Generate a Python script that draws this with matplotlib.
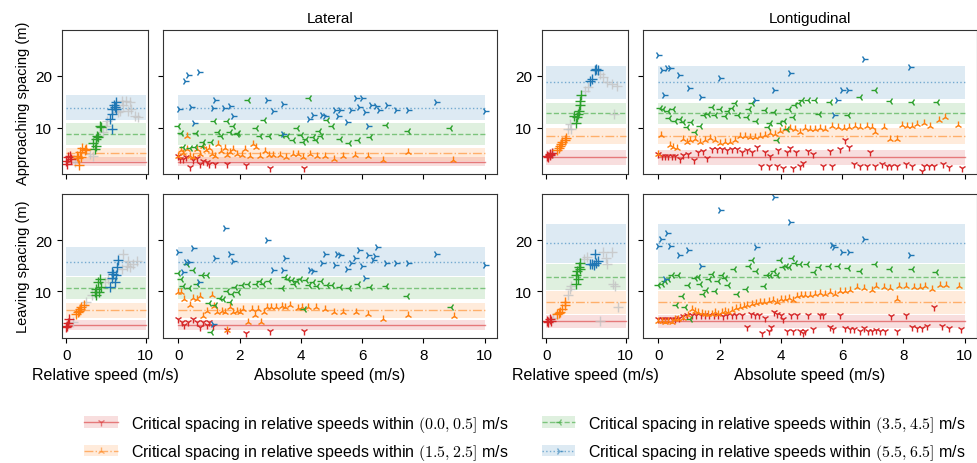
import numpy as np
import matplotlib
matplotlib.use('Agg')
import matplotlib.pyplot as plt
from matplotlib.patches import Patch
from matplotlib.lines import Line2D

plt.rcParams['font.family'] = ['Liberation Sans', 'DejaVu Sans']
plt.rcParams['mathtext.fontset'] = 'cm'

# bins of relative speed
bin_labels = ['(0.0, 0.5]', '(1.5, 2.5]', '(3.5, 4.5]', '(5.5, 6.5]']
colors = ['#d62728', '#ff7f0e', '#2ca02c', '#1f77b4']
markers = ['1', '2', '3', '4']
linestyles = ['-', '-.', '--', ':']

# critical spacing (centre, low, high) for each bin
lat_app_center = [3.44, 5.16, 8.85, 13.8]
lat_app_low = [2.7, 3.75, 6.8, 11.6]
lat_app_high = [4.4, 6.2, 11.0, 16.2]
lat_lea_center = [3.43, 6.35, 10.7, 15.8]
lat_lea_low = [2.45, 4.85, 8.6, 13.0]
lat_lea_high = [4.4, 7.7, 12.9, 18.6]
lon_app_center = [4.5, 8.53, 12.87, 18.74]
lon_app_low = [3.0, 6.94, 10.77, 15.55]
lon_app_high = [5.85, 10.0, 14.8, 21.8]
lon_lea_center = [4.15, 7.9, 12.8, 19.35]
lon_lea_low = [2.8, 5.6, 10.25, 15.5]
lon_lea_high = [5.45, 10.1, 15.3, 23.1]

# ---- relative speed vs spacing (x = relative speed, y = spacing) ----
lat_app_rel_red = [(0, 3.75), (0.2, 4.4), (0.42, 4.7), (0.13, 3.1), (0.55, 4.1)]
lat_app_rel_orange = [(1.6, 2.9), (1.35, 4.7), (1.69, 5.35), (2.0, 6.1), (2.3, 5.7), (1.9, 4.4), (1.5, 4.2), (2.5, 6.0)]
lat_app_rel_green = [(3.6, 6.0), (3.8, 7.9), (4.0, 8.2), (4.2, 10.4), (4.4, 10.1), (3.4, 7.1), (3.7, 6.6), (3.9, 8.5)]
lat_app_rel_blue = [(5.7, 9.8), (5.5, 11.7), (5.7, 12.7), (5.8, 13.6), (6.1, 13.9), (6.3, 13.6), (6.2, 15.0), (6.0, 14.3)]
lat_app_rel_grey = [(1.05, 3.4), (2.95, 5.0), (3.4, 4.7), (4.6, 9.2), (5.0, 10.4), (5.15, 11.4), (6.75, 13.3), (7.2, 14.3),
                    (7.5, 15.2), (8.0, 14.9), (8.2, 13.6), (7.8, 13.3), (8.65, 12.2), (9.1, 12.0), (6.5, 13.0), (6.96, 15.2)]

lon_app_rel_red = [(0.1, 4.7), (0.4, 5.0), (0.7, 5.2), (0.2, 4.4), (0.5, 4.8)]
lon_app_rel_orange = [(1.35, 5.7), (1.7, 6.6), (2.0, 7.3), (2.3, 7.6), (2.5, 8.0), (1.55, 6.1), (1.85, 6.9)]
lon_app_rel_green = [(3.7, 10.9), (3.9, 12.0), (4.1, 13.3), (4.3, 15.2), (4.4, 16.2), (4.0, 12.7), (4.2, 14.3), (3.5, 12.2)]
lon_app_rel_blue = [(5.5, 19.0), (5.8, 19.4), (6.1, 21.0), (6.3, 21.3), (6.5, 21.0)]
lon_app_rel_grey = [(0.9, 5.2), (2.7, 9.8), (2.95, 10.8), (3.1, 9.8), (4.9, 17.1), (5.2, 17.8), (7.2, 19.7), (7.7, 18.7),
                    (8.3, 18.4), (8.9, 18.0), (8.5, 12.7), (6.8, 20.3)]

lat_lea_rel_red = [(0.13, 3.3), (0.34, 4.6), (0.2, 3.8), (0, 3.0)]
lat_lea_rel_orange = [(1.27, 5.6), (1.6, 6.2), (1.9, 6.9), (2.2, 7.3), (1.5, 5.9), (1.77, 6.6)]
lat_lea_rel_green = [(3.6, 9.8), (3.8, 10.5), (4.0, 11.8), (4.2, 12.4), (3.7, 9.2), (4.1, 9.8), (4.4, 10.8)]
lat_lea_rel_blue = [(5.5, 10.8), (5.7, 12.7), (5.9, 13.4), (6.2, 13.1), (6.4, 14.7), (6.5, 16.1), (6.1, 11.8), (5.7, 13.7)]
lat_lea_rel_grey = [(0.85, 4.0), (2.5, 7.9), (3.2, 9.2), (4.85, 11.8), (5.3, 12.4), (7.2, 17.3), (7.6, 15.0), (8.0, 14.7),
                    (8.4, 15.3), (8.9, 16.0), (7.8, 16.0), (7.0, 14.4)]

lon_lea_rel_red = [(0.1, 4.3), (0.4, 4.6), (0.2, 4.0), (0.6, 4.3)]
lon_lea_rel_orange = [(1.35, 5.6), (1.7, 6.0), (2.0, 6.6), (2.3, 7.3), (2.4, 7.9), (1.55, 5.8)]
lon_lea_rel_green = [(3.8, 11.4), (3.7, 13.1), (3.9, 14.0), (4.1, 14.7), (4.3, 15.6), (4.0, 12.4), (4.2, 14.3)]
lon_lea_rel_blue = [(5.5, 15.3), (5.8, 15.3), (6.1, 17.3), (6.3, 15.6), (6.5, 16.0), (6.0, 15.1)]
lon_lea_rel_grey = [(0.9, 4.9), (2.7, 9.2), (2.95, 10.5), (3.1, 11.1), (4.7, 16.3), (5.1, 16.8), (7.2, 17.6), (7.7, 15.3),
                    (8.3, 17.6), (8.4, 11.4), (8.7, 11.1), (9.0, 7.0), (6.8, 4.3), (7.5, 16.6)]

# ---- absolute speed vs spacing ----
lat_app_abs_red = [(0.0, 4.7), (0.05, 4.0), (0.16, 4.1), (0.25, 4.4), (0.38, 2.5), (0.49, 3.9), (0.6, 4.2), (0.71, 3.1),
                   (0.82, 3.75), (0.92, 3.4), (1.01, 3.1), (1.2, 3.1), (1.6, 3.1), (2.2, 2.9), (2.99, 2.3), (4.1, 2.3)]
lat_app_abs_orange = [(0.27, 8.5), (0, 4.7), (0.08, 5.7), (0.16, 5.2), (0.27, 5.9), (0.38, 4.7), (0.47, 4.4), (0.6, 6.0),
                      (0.71, 5.0), (0.82, 6.6), (0.9, 5.7), (1.01, 6.1), (1.09, 5.0), (1.2, 4.7), (1.3, 6.9), (1.39, 5.5),
                      (1.52, 6.1), (1.6, 4.8), (1.68, 5.4), (1.79, 6.0), (1.92, 5.0), (2.07, 4.8), (2.17, 6.0), (2.34, 4.7),
                      (2.45, 6.9), (2.55, 6.3), (2.66, 4.7), (2.83, 5.5), (2.97, 4.8), (3.1, 4.8), (3.32, 4.8), (3.53, 4.4),
                      (3.75, 5.0), (3.91, 5.0), (4.08, 4.4), (4.29, 5.0), (4.51, 4.7), (4.78, 4.7), (5.09, 4.1), (5.38, 4.7),
                      (5.78, 4.8), (6.2, 4.7), (6.68, 3.95), (7.48, 5.4), (8.97, 3.9)]
lat_app_abs_green = [(0.0, 10.4), (0.09, 9.0), (0.57, 9.0), (0.16, 6.3), (0.38, 6.2), (0.54, 6.3), (0.76, 6.6), (1.17, 11.4),
                     (1.07, 7.4), (1.29, 9.2), (1.4, 8.5), (1.58, 11.4), (1.77, 10.3), (1.68, 9.2), (1.96, 9.0), (1.9, 8.9),
                     (2.28, 15.4), (2.55, 9.9), (2.66, 8.4), (2.79, 11.5), (2.96, 8.4), (3.37, 8.7), (3.55, 8.5), (3.75, 7.6),
                     (3.86, 9.9), (3.99, 8.7), (4.08, 7.3), (4.18, 7.9), (4.27, 15.7), (4.38, 8.2), (4.6, 9.5), (4.67, 8.5),
                     (4.48, 7.6), (4.84, 11.6), (5.0, 10.4), (5.27, 7.9), (5.58, 7.1), (5.87, 7.7), (6.27, 8.2), (6.77, 10.6),
                     (7.48, 9.5), (8.86, 9.9), (0.82, 7.3)]
lat_app_abs_blue = [(0.22, 19.0), (0.3, 20.2), (0.68, 20.6), (0.03, 13.6), (0.4, 13.95), (1.2, 15.4), (1.12, 13.8),
                    (1.49, 13.76), (1.68, 14.1), (1.79, 12.2), (0.51, 11.0), (2.9, 15.4), (3.1, 13.3), (3.4, 14.6),
                    (4.25, 11.7), (4.4, 12.5), (4.7, 12.4), (4.8, 12.2), (5.1, 13.4), (5.27, 13.5), (5.2, 12.2), (5.5, 11.2),
                    (5.8, 15.7), (5.98, 15.7), (5.65, 13.4), (5.9, 13.9), (6.1, 13.1), (6.3, 14.3), (6.45, 14.1),
                    (6.55, 13.5), (6.8, 14.4), (7.1, 13.5), (7.48, 13.4), (6.2, 10.4), (8.4, 15.0), (10.0, 13.3), (3.42, 8.9)]

lon_app_abs_red = [(0, 5.0), (0.11, 4.7), (0.22, 4.7), (0.33, 4.7), (0.44, 4.7), (0.54, 4.7), (0.71, 4.1), (0.82, 4.8),
                   (0.98, 5.0), (1.18, 3.9), (1.31, 5.35), (1.45, 5.5), (1.6, 4.2), (1.74, 6.0), (1.91, 6.0), (2.07, 5.9),
                   (2.23, 5.7), (2.4, 5.9), (2.56, 6.0), (2.72, 5.35), (2.89, 5.7), (3.05, 5.35), (3.21, 6.3), (3.36, 2.8),
                   (3.49, 5.35), (3.6, 2.8), (3.65, 4.7), (3.87, 2.8), (3.92, 5.7), (4.08, 2.3), (4.19, 5.35), (4.3, 6.1),
                   (4.41, 2.3), (4.49, 5.35), (4.63, 2.8), (4.72, 3.25), (4.9, 5.5), (5.04, 5.0), (5.39, 2.8), (5.59, 5.5),
                   (5.66, 2.8), (5.92, 6.0), (6.1, 7.6), (6.21, 6.3), (6.38, 3.1), (6.57, 2.8), (6.81, 2.8), (6.9, 5.35),
                   (7.08, 2.8), (7.3, 3.1), (7.46, 2.8), (7.6, 2.8), (7.79, 2.8), (8.09, 3.1), (8.28, 2.8), (8.6, 1.85),
                   (8.66, 2.7), (8.82, 2.7), (9.0, 2.8), (9.29, 3.1), (9.48, 2.5), (9.9, 2.3)]
lon_app_abs_orange = [(0, 5.0), (0.08, 8.7), (0.38, 6.75), (0.49, 6.4), (0.6, 6.1), (0.8, 7.9), (0.93, 7.4), (1.03, 7.6),
                      (1.2, 7.9), (1.36, 7.3), (1.53, 7.6), (1.69, 8.0), (1.85, 7.6), (2.02, 7.1), (2.18, 7.4), (2.34, 7.3),
                      (2.51, 7.6), (2.67, 8.4), (2.83, 8.4), (2.99, 8.2), (3.16, 8.2), (3.32, 8.4), (3.49, 8.7), (3.65, 9.0),
                      (3.81, 8.9), (3.98, 9.5), (4.14, 9.8), (4.3, 9.9), (4.47, 9.7), (4.63, 9.3), (4.79, 9.9), (4.96, 9.7),
                      (5.12, 9.8), (5.28, 9.9), (5.45, 9.8), (5.67, 10.3), (5.88, 10.1), (6.05, 9.9), (6.21, 10.1),
                      (6.43, 10.3), (6.59, 10.1), (6.81, 10.4), (6.97, 10.1), (7.08, 9.2), (7.35, 10.1), (7.57, 7.9),
                      (7.79, 7.9), (7.95, 10.6), (8.11, 10.4), (8.28, 10.4), (8.44, 10.8), (8.66, 11.0), (8.88, 10.4),
                      (9.15, 11.6), (9.37, 12.0), (9.78, 10.6)]
lon_app_abs_green = [(0.05, 13.8), (0.16, 13.6), (0.33, 13.3), (0.49, 13.6), (0.36, 11.8), (0.54, 11.4), (0.71, 11.7),
                     (0.82, 11.1), (0.95, 10.1), (1.07, 11.2), (1.2, 9.2), (1.36, 10.4), (1.49, 12.5), (1.63, 12.7),
                     (1.74, 13.9), (1.85, 12.5), (2.0, 13.6), (2.18, 12.2), (2.29, 13.3), (2.4, 13.8), (2.51, 14.8),
                     (2.59, 12.5), (2.89, 12.0), (2.97, 13.6), (3.05, 14.7), (3.19, 11.4), (3.49, 13.4), (3.76, 13.0),
                     (3.65, 10.9), (3.57, 10.1), (3.98, 10.9), (4.1, 11.4), (4.25, 13.6), (4.38, 12.0), (4.47, 14.4),
                     (4.58, 14.8), (4.68, 15.4), (4.9, 15.4), (5.1, 15.4), (5.26, 12.7), (5.59, 14.9), (6.18, 12.5),
                     (6.57, 15.9), (7.08, 17.3), (7.57, 15.2), (8.28, 14.9), (9.1, 15.0), (3.87, 7.6), (4.19, 9.8)]
lon_app_abs_blue = [(0, 24.0), (0.11, 21.1), (0.27, 21.4), (0.38, 21.4), (0.69, 20.1), (1.0, 17.6), (0.2, 16.2),
                    (1.39, 15.9), (2.0, 19.5), (3.79, 17.3), (4.3, 20.4), (6.0, 17.3), (6.2, 17.3), (6.7, 23.2),
                    (8.2, 21.6), (5.83, 15.4), (5.72, 12.5), (3.16, 15.4)]

lat_lea_abs_red = [(0, 4.7), (0.11, 4.0), (0.2, 3.5), (0.33, 4.1), (0.47, 4.6), (0.6, 4.0), (0.71, 3.0), (0.82, 4.0),
                   (0.92, 3.4), (1.01, 4.1), (1.12, 3.3), (1.6, 2.5), (2.2, 1.9), (2.99, 2.2), (4.1, 2.2)]
lat_lea_abs_orange = [(0, 9.9), (0.09, 9.8), (0.2, 8.5), (0.38, 7.3), (0.49, 8.8), (0.6, 8.6), (0.71, 9.0), (0.82, 5.1),
                      (0.95, 6.2), (1.09, 9.3), (1.17, 7.2), (1.25, 6.0), (1.41, 6.2), (1.52, 6.0), (1.68, 6.9), (1.79, 6.0),
                      (1.9, 6.2), (2.01, 6.0), (2.12, 6.6), (2.28, 4.0), (2.39, 6.6), (2.5, 5.3), (2.59, 6.6), (2.7, 4.0),
                      (2.8, 6.0), (2.9, 7.0), (3.04, 6.9), (3.2, 6.9), (3.37, 7.2), (3.48, 6.9), (3.64, 7.3), (3.89, 6.7),
                      (4.05, 6.9), (4.24, 6.9), (4.48, 6.9), (4.78, 6.6), (5.09, 6.0), (5.38, 6.0), (5.79, 5.9), (6.2, 5.6),
                      (6.68, 4.7), (7.48, 5.3), (8.99, 5.1), (1.6, 2.5)]
lat_lea_abs_green = [(0, 13.5), (0.09, 12.4), (0.16, 11.1), (0.27, 15.3), (0.36, 10.6), (0.47, 14.2), (0.6, 11.4),
                     (0.76, 13.1), (1.01, 7.7), (1.07, 2.0), (1.2, 7.4), (1.36, 8.8), (1.47, 8.6), (1.6, 10.1), (1.68, 7.9),
                     (1.74, 9.5), (1.85, 10.8), (1.96, 9.8), (2.07, 11.2), (2.26, 11.4), (2.53, 11.4), (2.66, 12.1),
                     (2.77, 11.4), (2.97, 12.1), (3.39, 10.6), (3.48, 12.9), (3.59, 12.5), (3.7, 12.2), (3.77, 11.4),
                     (3.86, 12.1), (3.97, 12.4), (4.1, 6.6), (4.18, 12.2), (4.27, 11.2), (4.38, 11.9), (4.51, 11.1),
                     (4.67, 12.1), (4.84, 11.2), (5.0, 11.2), (5.27, 10.8), (5.58, 10.6), (5.87, 11.4), (6.27, 10.8),
                     (6.77, 11.1), (7.47, 9.0), (8.89, 6.9), (0.92, 13.1)]
lat_lea_abs_blue = [(1.52, 22.3), (2.88, 20.0), (0, 17.7), (0.49, 18.4), (1.2, 16.5), (1.68, 17.3), (1.79, 16.0),
                    (0.25, 15.8), (0.36, 15.8), (0.16, 13.7), (0.66, 11.9), (1.14, 3.6), (3.1, 14.2), (3.4, 14.2),
                    (3.48, 16.5), (4.29, 14.2), (4.4, 14.0), (4.7, 15.6), (4.8, 17.3), (5.1, 15.2), (5.18, 17.3),
                    (5.29, 17.1), (5.49, 14.4), (5.65, 15.5), (5.76, 16.6), (5.89, 18.1), (6.01, 14.9), (6.09, 12.6),
                    (6.2, 17.1), (6.34, 16.1), (6.41, 16.9), (6.5, 18.6), (6.79, 15.5), (7.1, 15.5), (7.5, 15.6),
                    (8.4, 17.3), (10.0, 15.2)]

lon_lea_abs_red = [(0, 4.6), (0.11, 4.7), (0.22, 4.7), (0.33, 4.7), (0.44, 4.7), (0.54, 4.7), (0.69, 4.9), (0.82, 5.1),
                   (0.95, 5.3), (1.09, 5.3), (1.23, 5.3), (1.38, 5.3), (1.53, 5.3), (1.67, 5.3), (1.82, 5.3), (1.96, 5.3),
                   (2.1, 5.1), (2.23, 5.4), (2.4, 5.4), (2.54, 5.4), (2.72, 5.4), (2.89, 3.0), (3.02, 5.6), (3.16, 5.4),
                   (3.27, 5.4), (3.38, 1.9), (3.49, 4.9), (3.6, 2.2), (3.67, 3.0), (3.78, 6.0), (3.87, 5.6), (4.0, 5.4),
                   (4.08, 4.6), (4.19, 2.3), (4.32, 5.4), (4.41, 2.3), (4.52, 5.3), (4.61, 2.2), (4.72, 1.9), (4.79, 2.2),
                   (4.9, 5.3), (5.04, 2.7), (5.28, 5.3), (5.39, 5.4), (5.59, 3.0), (5.7, 2.7), (5.92, 5.3), (6.1, 2.8),
                   (6.24, 2.7), (6.39, 2.7), (6.57, 2.3), (6.7, 2.8), (6.83, 2.3), (6.97, 2.3), (7.11, 2.5), (7.24, 2.2),
                   (7.41, 2.2), (7.6, 5.1), (7.79, 2.2), (8.09, 5.3), (8.28, 3.0), (8.44, 2.8), (8.61, 2.8), (8.77, 3.2),
                   (8.99, 6.9), (9.26, 3.2), (9.48, 2.8), (9.89, 2.7)]
lon_lea_abs_orange = [(0, 4.3), (0.11, 4.3), (0.22, 4.1), (0.33, 4.3), (0.44, 4.1), (0.54, 4.6), (0.65, 4.7), (0.82, 4.9),
                      (0.98, 5.3), (1.09, 6.6), (1.2, 6.2), (1.31, 6.0), (1.42, 5.8), (1.53, 5.6), (1.63, 5.6), (1.74, 5.6),
                      (1.85, 6.0), (1.96, 5.6), (2.07, 6.0), (2.18, 6.2), (2.29, 5.9), (2.4, 6.4), (2.54, 6.7), (2.67, 6.9),
                      (2.78, 7.2), (2.91, 7.3), (3.05, 7.5), (3.19, 7.7), (3.32, 8.0), (3.46, 8.0), (3.6, 8.2), (3.74, 8.4),
                      (3.87, 8.0), (4.01, 8.6), (4.14, 8.6), (4.28, 8.8), (4.41, 8.4), (4.52, 9.0), (4.66, 9.2), (4.79, 9.3),
                      (4.96, 9.2), (5.12, 9.5), (5.28, 9.7), (5.45, 9.5), (5.61, 9.8), (5.77, 9.5), (5.94, 10.1),
                      (6.1, 10.1), (6.26, 10.3), (6.48, 10.8), (6.7, 10.6), (6.97, 10.3), (7.11, 11.0), (7.35, 10.8),
                      (7.57, 10.6), (7.79, 8.5), (7.84, 11.0), (8.09, 11.0), (8.33, 10.8), (8.55, 10.8), (8.71, 11.0),
                      (8.93, 10.5), (9.18, 11.2), (9.4, 11.2), (9.8, 11.0)]
lon_lea_abs_green = [(0, 11.2), (0.11, 11.4), (0.22, 12.1), (0.33, 12.4), (0.44, 13.1), (0.65, 13.2), (0.57, 7.3),
                     (0.76, 9.0), (0.87, 6.9), (0.96, 11.2), (1.2, 12.7), (1.31, 12.9), (1.36, 11.4), (1.47, 9.5),
                     (1.56, 10.3), (1.66, 12.4), (1.74, 13.4), (1.85, 10.1), (1.96, 12.1), (2.07, 13.1), (2.18, 12.7),
                     (2.27, 11.2), (2.47, 14.4), (2.56, 9.5), (2.86, 10.5), (2.97, 14.9), (3.05, 16.2), (3.19, 14.0),
                     (3.46, 11.1), (3.54, 13.1), (3.65, 13.2), (3.76, 14.0), (3.87, 13.1), (3.98, 16.2), (4.07, 14.7),
                     (4.17, 14.9), (4.27, 14.7), (4.36, 16.6), (4.47, 15.6), (4.63, 15.3), (4.85, 15.3), (5.07, 13.8),
                     (5.26, 14.7), (5.58, 14.9), (5.88, 14.9), (6.18, 14.5), (6.57, 14.0), (7.08, 15.3), (7.57, 14.4),
                     (8.28, 14.4), (9.07, 13.7), (1.03, 4.6)]
lon_lea_abs_blue = [(0, 18.8), (0.09, 20.2), (0.29, 21.4), (0.38, 18.9), (0.69, 17.1), (0.98, 18.1), (1.38, 14.9),
                    (2.0, 25.9), (3.19, 18.7), (3.78, 28.4), (4.3, 23.6), (5.66, 19.1), (5.74, 18.6), (5.99, 17.7),
                    (6.21, 17.6), (6.7, 20.2), (8.2, 17.1), (0.22, 12.5)]

# figure layout (pixel-matched)
fig = plt.figure(figsize=(9.78, 4.64), dpi=100)
W, H = 978, 464
col_px = [(62, 148), (163, 497), (542, 628), (643, 977)]
row_px = [(31, 175), (195, 339)]
axes = [[None] * 4 for _ in range(2)]
for r, (top, bot) in enumerate(row_px):
    for c, (l, rr) in enumerate(col_px):
        axes[r][c] = fig.add_axes([l / W, 1 - bot / H, (rr - l) / W, (bot - top) / H])

panels = [
    (0, 0, [lat_app_rel_red, lat_app_rel_orange, lat_app_rel_green, lat_app_rel_blue], lat_app_rel_grey,
     lat_app_center, lat_app_low, lat_app_high),
    (0, 1, [lat_app_abs_red, lat_app_abs_orange, lat_app_abs_green, lat_app_abs_blue], None,
     lat_app_center, lat_app_low, lat_app_high),
    (0, 2, [lon_app_rel_red, lon_app_rel_orange, lon_app_rel_green, lon_app_rel_blue], lon_app_rel_grey,
     lon_app_center, lon_app_low, lon_app_high),
    (0, 3, [lon_app_abs_red, lon_app_abs_orange, lon_app_abs_green, lon_app_abs_blue], None,
     lon_app_center, lon_app_low, lon_app_high),
    (1, 0, [lat_lea_rel_red, lat_lea_rel_orange, lat_lea_rel_green, lat_lea_rel_blue], lat_lea_rel_grey,
     lat_lea_center, lat_lea_low, lat_lea_high),
    (1, 1, [lat_lea_abs_red, lat_lea_abs_orange, lat_lea_abs_green, lat_lea_abs_blue], None,
     lat_lea_center, lat_lea_low, lat_lea_high),
    (1, 2, [lon_lea_rel_red, lon_lea_rel_orange, lon_lea_rel_green, lon_lea_rel_blue], lon_lea_rel_grey,
     lon_lea_center, lon_lea_low, lon_lea_high),
    (1, 3, [lon_lea_abs_red, lon_lea_abs_orange, lon_lea_abs_green, lon_lea_abs_blue], None,
     lon_lea_center, lon_lea_low, lon_lea_high),
]

ylims = [(1.2, 28.7), (0.9, 29.0)]

for r, c, series, grey, cen, low, high in panels:
    ax = axes[r][c]
    narrow = c in (0, 2)
    for i in range(4):
        ax.fill_between([0, 10], low[i], high[i], color=colors[i], alpha=0.15, lw=0)
        ax.plot([0, 10], [cen[i], cen[i]], color=colors[i], ls=linestyles[i], lw=1, alpha=0.55)
    if grey is not None:
        g = np.array(grey)
        ax.plot(g[:, 0], g[:, 1], ls='none', marker='+', ms=7, mew=1, color='#c4c4c4', alpha=0.8)
    for i, pts in enumerate(series):
        p = np.array(pts)
        if narrow:
            ax.plot(p[:, 0], p[:, 1], ls='none', marker='+', ms=7, mew=1, color=colors[i])
        else:
            ax.plot(p[:, 0], p[:, 1], ls='none', marker=markers[i], ms=6, mew=1, color=colors[i])
    ax.set_ylim(*ylims[r])
    ax.set_yticks([10, 20])
    ax.tick_params(labelsize=11)
    if narrow:
        ax.set_xlim(-0.55, 10.3)
        ax.set_xticks([0, 10])
    else:
        ax.set_xlim(-0.5, 10.4)
        ax.set_xticks([0, 2, 4, 6, 8, 10])
        ax.set_yticklabels([])
    if r == 0:
        ax.set_xticklabels([])
    else:
        ax.set_xlabel('Relative speed (m/s)' if narrow else 'Absolute speed (m/s)', fontsize=11.5)
    for s in ax.spines.values():
        s.set_color('#333333')

axes[0][0].set_ylabel('Approaching spacing (m)', fontsize=10.5)
axes[1][0].set_ylabel('Leaving spacing (m)', fontsize=10.5)
axes[0][1].set_title('Lateral', fontsize=11, pad=6)
axes[0][3].set_title('Lontigudinal', fontsize=11, pad=6)

handles = []
labels = []
for i in range(4):
    patch = Patch(facecolor=colors[i], alpha=0.15, edgecolor='none')
    line = Line2D([], [], color=colors[i], ls=linestyles[i], lw=1, alpha=0.55,
                  marker=markers[i], ms=6, mew=1, markeredgecolor=colors[i])
    handles.append((patch, line))
    lo, hi = bin_labels[i][1:-1].split(', ')
    labels.append('Critical spacing in relative speeds within $(%s, %s]$ m/s' % (lo, hi))

fig.legend(handles, labels, loc='center', bbox_to_anchor=(525 / W, 1 - 439 / H), ncol=2,
           frameon=False, fontsize=11.5, columnspacing=2.1, handlelength=2.1, handletextpad=0.8,
           labelspacing=0.55, borderaxespad=0)

fig.savefig('out.png', dpi=100)
